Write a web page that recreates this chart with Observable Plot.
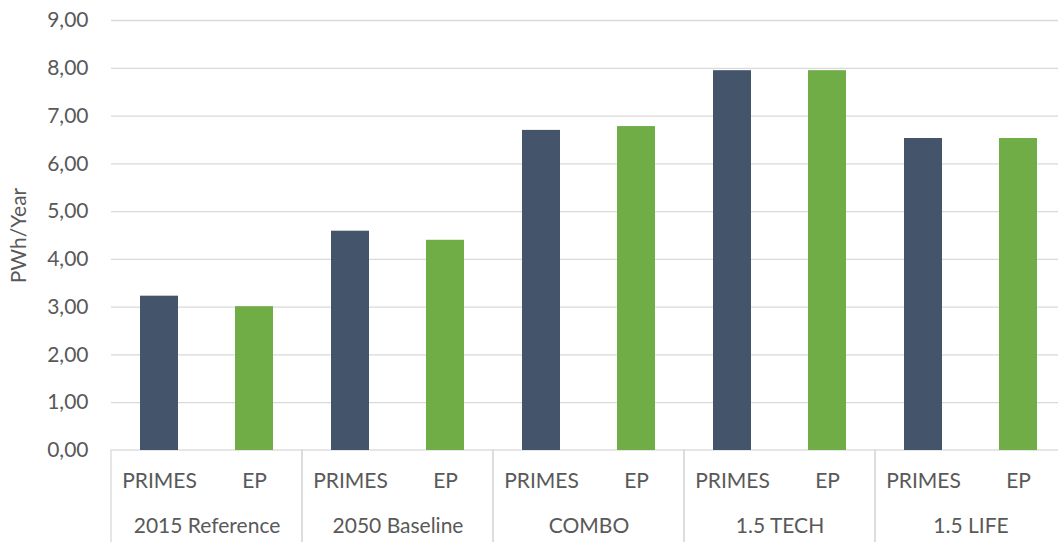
<!DOCTYPE html>
<html>
<head>
<meta charset="utf-8">
<script src="https://cdn.jsdelivr.net/npm/d3@7"></script>
<script src="https://cdn.jsdelivr.net/npm/@observablehq/plot@0.6"></script>
<style>
  html, body { margin: 0; padding: 0; background: #fff; overflow: hidden; }
  #chart { width: 1058px; height: 542px; overflow: hidden; }
</style>
</head>
<body>
<div id="chart"></div>
<script>
// Scenario groups and the two model series shown inside each group
const groups = ["2015 Reference", "2050 Baseline", "COMBO", "1.5 TECH", "1.5 LIFE"];
const series = ["PRIMES", "EP"];

// Electricity demand, PWh per year
const primesValues = [3.23, 4.59, 6.70, 7.95, 6.53];
const epValues = [3.01, 4.40, 6.78, 7.95, 6.53];

// Value axis ticks
const yTicks = [0, 1, 2, 3, 4, 5, 6, 7, 8, 9];

const seriesColors = ["#44546A", "#70AD47"];
const gridColor = "#D9D9D9";
const textColor = "#595959";

const rows = groups.flatMap((g, i) => [
  {group: g, series: "PRIMES", value: primesValues[i]},
  {group: g, series: "EP", value: epValues[i]}
]);

// Decimal comma, two digits
const fmt = d3.formatLocale({decimal: ",", thousands: ".", grouping: [3], currency: ["", " €"]}).format(".2f");

// Depth of the category box under the zero line, in value units
const boxDepth = -2.05;

const chart = Plot.plot({
  width: 1058,
  height: 542,
  marginTop: 20,
  marginBottom: 92,
  marginLeft: 109,
  marginRight: -10,
  style: {fontFamily: "Lato, 'Open Sans', sans-serif", fontSize: "21px", color: textColor, background: "#fff", overflow: "hidden"},
  fx: {domain: groups, padding: 0, label: null},
  x: {domain: series, paddingInner: 0.6, paddingOuter: 0.3, label: null},
  y: {domain: [0, 9], label: null},
  color: {domain: series, range: seriesColors},
  marks: [
    Plot.gridY(yTicks.slice(1), {stroke: gridColor, strokeOpacity: 1, strokeWidth: 1.3}),
    // category boxes: zero line plus the vertical separators between groups
    Plot.rect([{}], {y1: () => 0, y2: () => boxDepth, fill: "none", stroke: gridColor, strokeWidth: 1.3}),
    Plot.barY(rows, {fx: "group", x: "series", y: "value", fill: "series"}),
    Plot.axisY({
      ticks: yTicks, tickFormat: fmt, tickSize: 0, tickPadding: 23,
      label: "PWh/Year", labelAnchor: "center", labelOffset: 100, labelArrow: "none"
    }),
    Plot.axisX({tickSize: 0, tickPadding: 23, label: null}),
    Plot.axisFx({anchor: "bottom", tickSize: 0, tickPadding: 68, label: null})
  ]
});

document.getElementById("chart").appendChild(chart);
</script>
</body>
</html>
